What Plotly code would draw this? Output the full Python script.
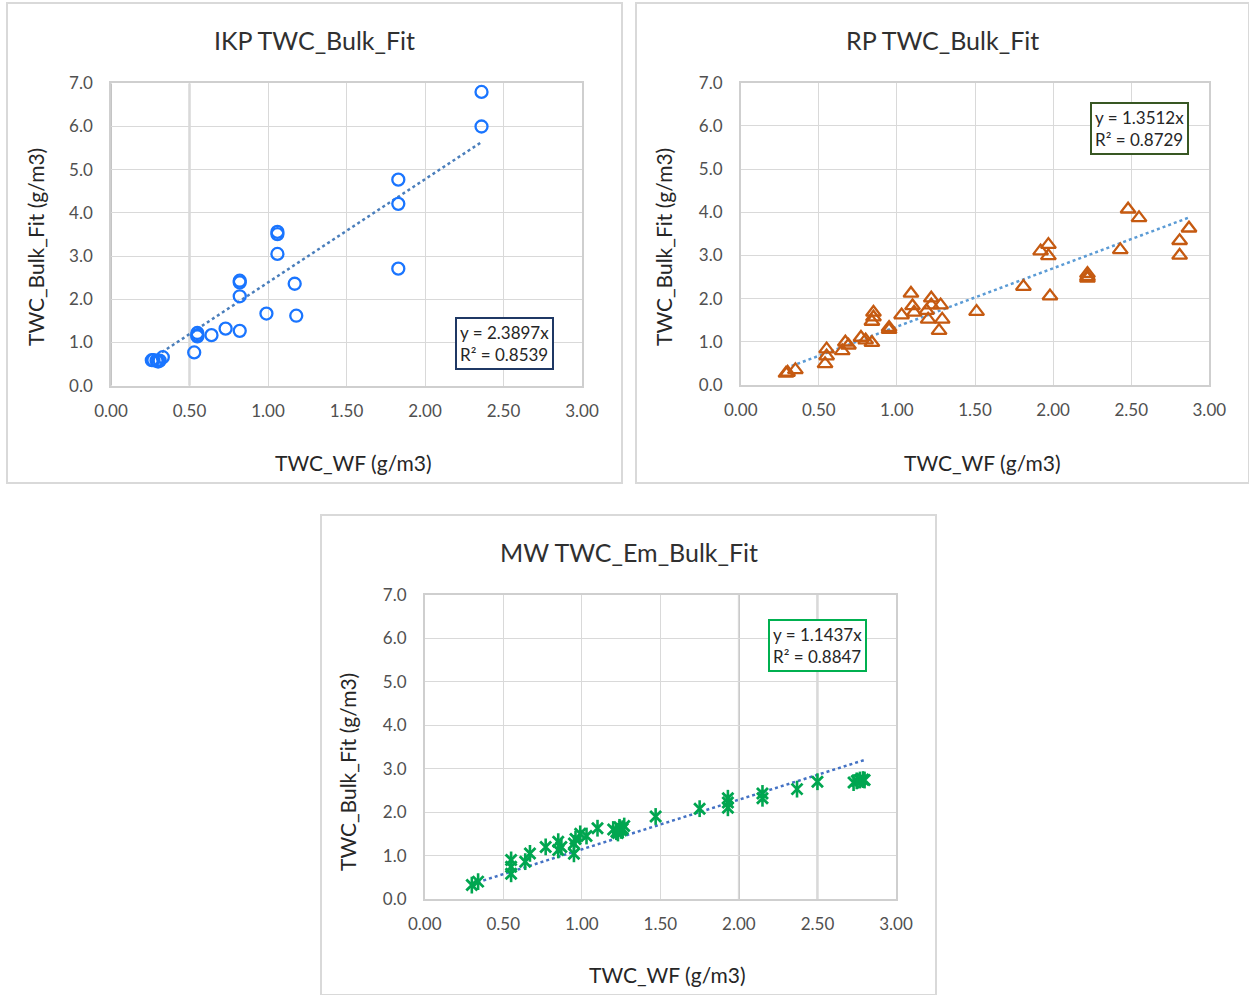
import plotly.graph_objects as go

W, H = 1249, 995
FONT = "Lato"

# ---------------- data ----------------
titles = ["IKP TWC_Bulk_Fit", "RP TWC_Bulk_Fit", "MW TWC_Em_Bulk_Fit"]
x_title = "TWC_WF (g/m3)"
y_title = "TWC_Bulk_Fit (g/m3)"
slopes = [2.3897, 1.3512, 1.1437]
r2 = [0.8539, 0.8729, 0.8847]
x_ticks = [0.0, 0.5, 1.0, 1.5, 2.0, 2.5, 3.0]
y_ticks = [0.0, 1.0, 2.0, 3.0, 4.0, 5.0, 6.0, 7.0]

ikp_x = [2.36, 2.36, 1.83, 1.83, 1.83, 1.06, 1.06, 1.06, 0.82, 0.82, 0.82, 1.17, 0.99,
         1.18, 0.73, 0.82, 0.64, 0.55, 0.55, 0.55, 0.53, 0.26, 0.27, 0.29, 0.30, 0.31, 0.33]
ikp_y = [6.80, 6.00, 4.77, 4.21, 2.71, 3.56, 3.51, 3.05, 2.43, 2.39, 2.07, 2.36, 1.67,
         1.62, 1.32, 1.27, 1.17, 1.22, 1.17, 1.14, 0.77, 0.59, 0.59, 0.58, 0.56, 0.58, 0.66]

rp_x = [2.48, 2.55, 2.87, 2.81, 2.81, 2.43, 1.92, 1.97, 1.97, 1.98, 2.22, 2.22, 2.22,
        1.81, 1.51, 1.09, 1.10, 1.11, 1.03, 1.22, 1.22, 1.28, 1.19, 1.20, 1.29, 1.27,
        0.95, 0.95, 0.85, 0.85, 0.84, 0.84, 0.77, 0.80, 0.67, 0.69, 0.65, 0.55, 0.55,
        0.54, 0.30, 0.35, 0.29]
rp_y = [4.07, 3.87, 3.63, 3.34, 3.00, 3.13, 3.10, 3.25, 2.99, 2.06, 2.58, 2.51, 2.47,
        2.28, 1.70, 2.12, 1.83, 1.68, 1.62, 2.01, 1.85, 1.85, 1.72, 1.52, 1.52, 1.26,
        1.33, 1.28, 1.68, 1.57, 1.47, 0.98, 1.10, 1.04, 0.99, 0.92, 0.79, 0.83, 0.67,
        0.49, 0.29, 0.35, 0.27]

mw_x = [2.73, 2.75, 2.77, 2.79, 2.80, 2.50, 2.37, 2.15, 2.15, 1.93, 1.93, 1.93, 1.75,
        1.47, 1.20, 1.22, 1.24, 1.25, 1.26, 1.27, 1.23, 1.10, 1.03, 0.99, 0.96, 0.95,
        0.95, 0.87, 0.85, 0.85, 0.77, 0.67, 0.64, 0.55, 0.55, 0.55, 0.30, 0.34]
mw_y = [2.68, 2.72, 2.74, 2.75, 2.74, 2.70, 2.53, 2.43, 2.32, 2.32, 2.22, 2.10, 2.08,
        1.90, 1.60, 1.55, 1.65, 1.58, 1.62, 1.68, 1.52, 1.63, 1.45, 1.50, 1.38, 1.28,
        1.04, 1.20, 1.32, 1.13, 1.20, 1.05, 0.86, 0.90, 0.74, 0.58, 0.32, 0.40]

# ---------------- layout geometry (pixels) ----------------
def px(x):
    return x / W

def py(y):
    return 1 - y / H

panels = [
    dict(plot=(111, 582, 83.3, 385.7), frame=(7, 622, 3, 483), title=(314.5, 40),
         xt=(353, 462), yt=(35, 247), box=(504, 343), boxcol="#1f3864",
         mcol="#1a75ff", tcol="#4a7ebb", darkgrid=[0.0, 0.5]),
    dict(plot=(740.7, 1209.3, 82.7, 385), frame=(636, 1249, 3, 483), title=(942, 40),
         xt=(982, 462), yt=(663, 247), box=(1139, 128), boxcol="#385723",
         mcol="#c55a11", tcol="#5b9bd5", darkgrid=[]),
    dict(plot=(424.7, 896, 595, 899), frame=(321, 936, 515, 995), title=(628.5, 552),
         xt=(667, 974), yt=(347, 772), box=(817, 645), boxcol="#00b050",
         mcol="#00a650", tcol="#4472c4", darkgrid=[2.0, 2.5]),
]

fig = go.Figure()
datasets = [(ikp_x, ikp_y), (rp_x, rp_y), (mw_x, mw_y)]

for i, ((xs, ys), p) in enumerate(zip(datasets, panels)):
    ax = "" if i == 0 else str(i + 1)
    xref, yref = "x" + ax, "y" + ax
    # trendline (through origin) over data range
    xmin, xmax = min(xs), max(xs)
    fig.add_trace(go.Scatter(x=[xmin, xmax], y=[slopes[i] * xmin, slopes[i] * xmax],
                             mode="lines", xaxis=xref, yaxis=yref, showlegend=False,
                             line=dict(color=p["tcol"], width=2.5, dash="dot"),
                             hoverinfo="skip"))
    if i == 0:
        fig.add_trace(go.Scatter(x=xs, y=ys, mode="markers", xaxis=xref, yaxis=yref,
                                 showlegend=False,
                                 marker=dict(symbol="circle-open", size=12,
                                             color=p["mcol"], line=dict(width=2.3))))
    elif i == 1:
        fig.add_trace(go.Scatter(x=xs, y=ys, mode="markers", xaxis=xref, yaxis=yref,
                                 showlegend=False,
                                 marker=dict(symbol="triangle-up-open", size=13,
                                             color=p["mcol"], line=dict(width=2.3))))
    else:
        fig.add_trace(go.Scatter(x=xs, y=ys, mode="markers", xaxis=xref, yaxis=yref,
                                 showlegend=False,
                                 marker=dict(symbol="x-thin-open", size=11,
                                             color=p["mcol"], line=dict(width=2.8))))
        fig.add_trace(go.Scatter(x=xs, y=ys, mode="markers", xaxis=xref, yaxis=yref,
                                 showlegend=False,
                                 marker=dict(symbol="line-ns-open", size=12,
                                             color=p["mcol"], line=dict(width=2.6))))

    x0, x1, y0, y1 = p["plot"]
    common = dict(showgrid=True, gridcolor="#d9d9d9", gridwidth=1, zeroline=False,
                  showline=True, linecolor="#cfcfcf", linewidth=1.5, mirror=True,
                  ticks="", automargin=False,
                  tickfont=dict(family=FONT, size=17, color="#505050"),
                  fixedrange=True)
    fig.update_layout(**{
        "xaxis" + ax: dict(common, domain=[px(x0), px(x1)], range=[0, 3],
                           tickvals=x_ticks, ticktext=[f"{v:.2f}" for v in x_ticks],
                           anchor=yref, ticklabelstandoff=9),
        "yaxis" + ax: dict(common, domain=[py(y1), py(y0)], range=[0, 7],
                           tickvals=y_ticks, ticktext=[f"{v:.1f}" for v in y_ticks],
                           anchor=xref, ticklabelstandoff=13),
    })

    for gx in p["darkgrid"]:
        fig.add_shape(type="line", xref=xref, yref=yref, x0=gx, x1=gx, y0=0, y1=7,
                      line=dict(color="#c4c4c4", width=2), layer="below")

    fx0, fx1, fy0, fy1 = p["frame"]
    fig.add_shape(type="rect", xref="paper", yref="paper", x0=px(fx0), x1=px(fx1),
                  y0=py(fy1), y1=py(fy0), line=dict(color="#d9d9d9", width=2),
                  fillcolor="rgba(0,0,0,0)", layer="below")

    fig.add_annotation(x=px(p["title"][0]), y=py(p["title"][1]), xref="paper", yref="paper",
                       text=titles[i], showarrow=False, xanchor="center", yanchor="middle",
                       font=dict(family=FONT, size=25, color="#303030"))
    fig.add_annotation(x=px(p["xt"][0]), y=py(p["xt"][1]), xref="paper", yref="paper",
                       text=x_title, showarrow=False, xanchor="center", yanchor="middle",
                       font=dict(family=FONT, size=21, color="#262626"))
    fig.add_annotation(x=px(p["yt"][0]), y=py(p["yt"][1]), xref="paper", yref="paper",
                       text=y_title, showarrow=False, xanchor="center", yanchor="middle",
                       textangle=-90,
                       font=dict(family=FONT, size=21, color="#262626"))
    fig.add_annotation(x=px(p["box"][0]), y=py(p["box"][1]), xref="paper", yref="paper",
                       text=f"y = {slopes[i]:.4f}x<br>R² = {r2[i]:.4f}", showarrow=False,
                       xanchor="center", yanchor="middle", align="left",
                       bgcolor="white", bordercolor=p["boxcol"], borderwidth=2, borderpad=3,
                       font=dict(family=FONT, size=17, color="#262626"))

fig.update_layout(width=W, height=H,
                  margin=dict(l=0, r=0, t=0, b=0, pad=0, autoexpand=False),
                  paper_bgcolor="white", plot_bgcolor="white", showlegend=False)

fig.write_html("out.html")
